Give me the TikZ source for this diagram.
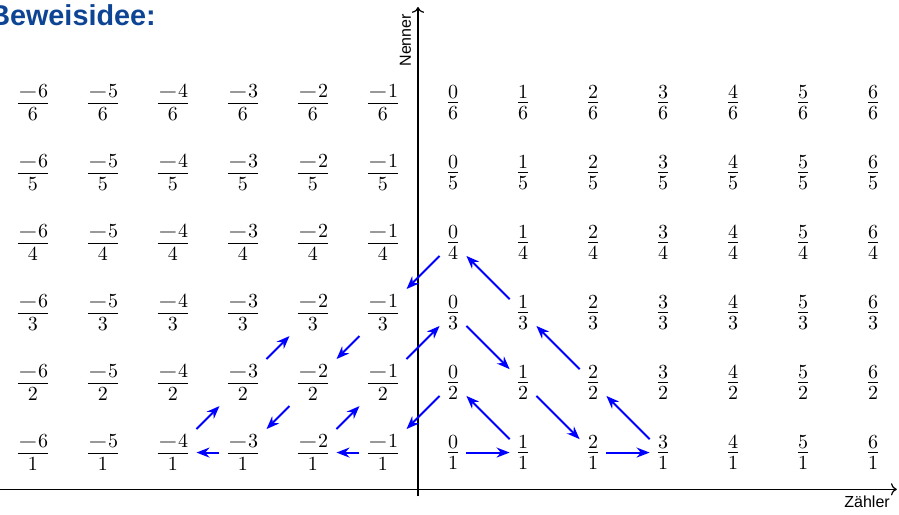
\documentclass[tikz,border=0pt]{standalone}
\usepackage{fontspec}
\setsansfont{Liberation Sans}
\usetikzlibrary{arrows.meta}
\definecolor{titleblue}{RGB}{14,68,148}
% fraction with a wide minus and a compact stack
\newcommand\stackfrac[2]{%
  \ifnum#1<0 \setbox0\hbox{$\mathord{\scalebox{1.3}[1]{$-$}}\number-#1\relax$}%
  \else\setbox0\hbox{$#1$}\fi
  \setbox2\hbox{$#2$}%
  \dimen0=\wd0 \ifdim\wd2>\dimen0 \dimen0=\wd2 \fi
  $\vcenter{\offinterlineskip\hbox to\dimen0{\hfil\box0\hfil}\kern1.65pt\hrule height0.4pt width\dimen0\kern1.85pt\hbox to\dimen0{\hfil\box2\hfil}}$}
\begin{document}
\begin{tikzpicture}[x=35pt,y=35pt,
  fracnode/.style={inner xsep=4pt, inner ysep=3.33pt},
  cantor/.style={blue, line width=0.95pt, -{Stealth[length=6.5pt,width=5pt]}},
  axisline/.style={semithick, ->},
  axlabel/.style={font=\sffamily\footnotesize, inner sep=3.33pt}]
\useasboundingbox (-6.471,0.157) rectangle (6.371,7.5);
% title
\node[anchor=base west, inner sep=0pt, text=titleblue, font=\sffamily\bfseries\Large] (title) at (-6.63,7.13) {Beweisidee:};
% axes
\coordinate (xs) at (-6.6,0.51);
\coordinate (xe) at (6.34,0.51);
\coordinate (ys) at (-0.5,0.41);
\coordinate (ye) at (-0.5,7.4);
\draw[axisline] (xs) -- (xe);
\draw[axisline] (ys) -- (ye);
\node[axlabel, anchor=north east] (zl) at (xe) {Zähler};
\node[axlabel, anchor=south east, rotate=90] (nl) at (ye) {Nenner};
% fractions
\foreach \n in {-6,...,6}{
  \foreach \d in {1,...,6}{
    \node[fracnode] (f\n-\d) at (\n,\d+0.035) {\stackfrac{\n}{\d}};
  }
}
% Cantor path
\draw[cantor] (f0-1) -- (f1-1);
\draw[cantor] (f1-1) -- (f0-2);
\draw[cantor] (f0-2) -- (f-1-1);
\draw[cantor] (f-1-1) -- (f-2-1);
\draw[cantor] (f-2-1) -- (f-1-2);
\draw[cantor] (f-1-2) -- (f0-3);
\draw[cantor] (f0-3) -- (f1-2);
\draw[cantor] (f1-2) -- (f2-1);
\draw[cantor] (f2-1) -- (f3-1);
\draw[cantor] (f3-1) -- (f2-2);
\draw[cantor] (f2-2) -- (f1-3);
\draw[cantor] (f1-3) -- (f0-4);
\draw[cantor] (f0-4) -- (f-1-3);
\draw[cantor] (f-1-3) -- (f-2-2);
\draw[cantor] (f-2-2) -- (f-3-1);
\draw[cantor] (f-3-1) -- (f-4-1);
\draw[cantor] (f-4-1) -- (f-3-2);
\draw[cantor] (f-3-2) -- (f-2-3);
\end{tikzpicture}
\end{document}
